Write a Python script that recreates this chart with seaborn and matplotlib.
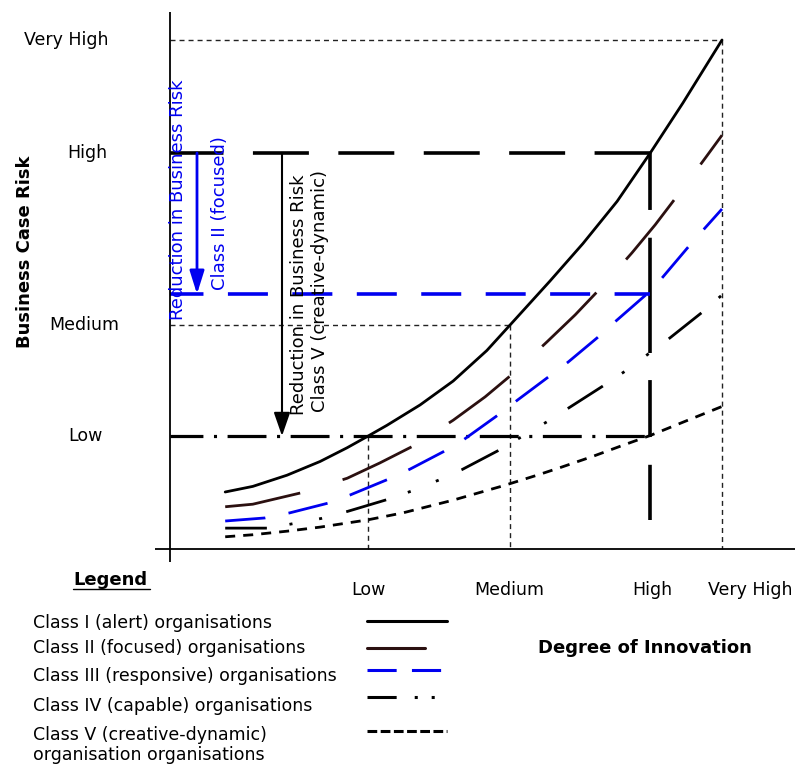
import matplotlib
matplotlib.use("Agg")
import matplotlib.pyplot as plt
from matplotlib.lines import Line2D
import pandas as pd
import seaborn as sns

# ---------------- data ----------------
# Degree of Innovation (x) and Business Case Risk (y), both on a 0-100 scale
level_names = ["Low", "Medium", "High", "Very High"]
innovation_levels = [35.9, 61.6, 87.0, 100.0]
risk_levels = [22.2, 44.0, 77.8, 100.0]
class2_reduced_risk = 50.1

class_names = ["Class I", "Class II", "Class III", "Class IV", "Class V"]
legend_labels = [
    ["Class I (alert) organisations"],
    ["Class II (focused) organisations"],
    ["Class III (responsive) organisations"],
    ["Class IV (capable) organisations"],
    ["Class V (creative-dynamic)", "organisation organisations"],
]

class1_x = [10.0, 15.0, 21.2, 27.2, 32.1, 35.9, 39.3, 45.3, 51.3, 57.4, 61.6, 68.8, 74.8, 81.0, 87.0, 92.9, 100.0]
class1_y = [11.2, 12.3, 14.5, 17.2, 19.9, 22.2, 24.3, 28.3, 33.0, 39.0, 44.0, 52.6, 60.0, 68.3, 77.8, 87.6, 100.0]
class2_x = [10.0, 15.0, 23.6, 32.1, 38.0, 44.0, 51.3, 57.1, 62.5, 68.3, 73.4, 78.4, 83.7, 87.9, 92.4, 97.1, 100.0]
class2_y = [8.3, 8.8, 11.0, 13.9, 16.9, 20.2, 25.3, 29.9, 34.8, 40.7, 46.0, 51.7, 58.2, 63.7, 70.1, 77.0, 81.3]
class3_x = [10.0, 17.2, 21.7, 28.6, 32.6, 39.3, 43.5, 49.5, 53.1, 59.4, 63.0, 68.3, 72.1, 77.4, 81.0, 86.6, 89.1, 93.7, 96.7, 100.0]
class3_y = [5.5, 6.1, 7.1, 9.0, 10.6, 13.6, 15.7, 19.1, 21.4, 26.3, 29.3, 33.6, 36.7, 41.5, 45.0, 50.3, 53.2, 59.1, 62.8, 66.8]
class4_x = [10.0, 17.6, 21.9, 27.4, 32.2, 39.3, 43.8, 48.6, 52.9, 59.4, 68.3, 72.5, 78.4, 82.4, 90.6, 96.4, 100.0]
class4_y = [4.1, 4.1, 4.9, 6.0, 7.4, 9.7, 11.4, 13.5, 15.6, 19.3, 25.0, 27.9, 32.0, 34.9, 41.5, 46.5, 49.9]
class5_x = [10.0, 15.0, 21.2, 27.2, 35.7, 42.2, 51.3, 60.3, 66.5, 70.7, 76.6, 82.1, 87.0, 92.9, 100.0]
class5_y = [2.4, 2.8, 3.5, 4.3, 5.7, 7.1, 9.6, 12.4, 14.5, 16.0, 18.2, 20.4, 22.3, 24.9, 28.0]

series_x = [class1_x, class2_x, class3_x, class4_x, class5_x]
series_y = [class1_y, class2_y, class3_y, class4_y, class5_y]

# ---------------- style ----------------
sns.set_style("white")
plt.rcParams["font.family"] = ["DejaVu Sans"]
plt.rcParams["text.color"] = "black"
plt.rcParams["lines.scale_dashes"] = False

BLUE = "#0000f0"
BROWN = "#2b1010"
colors = {"Class I": "black", "Class II": BROWN, "Class III": BLUE,
          "Class IV": "black", "Class V": "black"}
dashes = {"Class I": "", "Class II": (55, 32), "Class III": (29, 17),
          "Class IV": (30, 16.5, 2.2, 19.5, 2.2, 18), "Class V": (7.2, 5.8)}
legend_dashes = {"Class I": "", "Class II": "", "Class III": (21, 11),
                 "Class IV": (21, 13, 2.2, 10, 2.2, 20), "Class V": (7, 2.5)}

W, H = 795, 767
def fx(px):
    return px / W
def fy(py):
    return 1 - py / H
# pixel -> data helpers for layout
def dx(px):
    return (px - 170) / 5.52
def dy(py):
    return (549 - py) / 5.09

fig = plt.figure(figsize=(W / 100, H / 100), dpi=100)
ax = fig.add_axes([fx(155), fy(562), fx(795) - fx(155), fy(12) - fy(562)])
ax.set_xlim(dx(155), dx(795))
ax.set_ylim(dy(562), dy(12))
ax.set_axis_off()

# axes lines
ax.axhline(0, color="black", lw=1.3, zorder=4)
ax.axvline(0, color="black", lw=1.3, zorder=4)

# ---------------- curves ----------------
frames = []
for name, xs, ys in zip(class_names, series_x, series_y):
    frames.append(pd.DataFrame({"innovation": xs, "risk": ys, "cls": name}))
df = pd.concat(frames, ignore_index=True)

sns.lineplot(data=df, x="innovation", y="risk", hue="cls", style="cls",
             hue_order=class_names, style_order=class_names,
             palette=colors, dashes=dashes, linewidth=2.0,
             estimator=None, errorbar=None, legend=False, ax=ax, zorder=3)
for line in ax.get_lines():
    line.set_solid_joinstyle("round")

# ---------------- reference lines ----------------
lx, mx, hx, vhx = innovation_levels
ly, my, hy, vhy = risk_levels
thin = dict(color="#222222", lw=1.0, dashes=(3.6, 2.9), zorder=2)
ax.plot([0, vhx], [vhy, vhy], **thin)
ax.plot([vhx, vhx], [vhy, 0], **thin)
ax.plot([0, mx], [my, my], **thin)
ax.plot([mx, mx], [my, 0], **thin)
ax.plot([lx, lx], [ly, 0], **thin)

ax.plot([0, hx], [hy, hy], color="black", lw=2.6,
        linestyle=(1.8, (40.3, 21.2)), zorder=2)
ax.plot([hx, hx], [hy, dy(520)], color="black", lw=2.6,
        linestyle=(0, (41, 20, 83, 19.5, 41, 20, 40, 30)), zorder=2)
ax.plot([0, hx], [class2_reduced_risk, class2_reduced_risk], color=BLUE, lw=2.6,
        linestyle=(4.7, (28.8, 17.6)), zorder=2)
ax.plot([0, hx], [ly, ly], color="black", lw=2.3,
        linestyle=(4.3, (28, 7.6, 2.2, 7.6)), zorder=2)

# arrows
ax.annotate("", xy=(dx(282), ly), xytext=(dx(282), hy),
            arrowprops=dict(arrowstyle="-|>,head_length=0.72,head_width=0.25",
                            color="black", lw=1.5, shrinkA=0, shrinkB=0,
                            mutation_scale=20), zorder=5)
ax.annotate("", xy=(dx(197), class2_reduced_risk), xytext=(dx(197), hy),
            arrowprops=dict(arrowstyle="-|>,head_length=0.7,head_width=0.22",
                            color=BLUE, lw=2.0, shrinkA=0, shrinkB=0,
                            mutation_scale=20), zorder=5)

# rotated annotation texts
fig.text(fx(178), fy(320), "Reduction in Business Risk", rotation=90,
         ha="center", va="bottom", color=BLUE, fontsize=13)
fig.text(fx(220), fy(290), "Class II (focused)", rotation=90,
         ha="center", va="bottom", color=BLUE, fontsize=13)
fig.text(fx(299), fy(415), "Reduction in Business Risk", rotation=90,
         ha="center", va="bottom", color="black", fontsize=13)
fig.text(fx(320), fy(412), "Class V (creative-dynamic)", rotation=90,
         ha="center", va="bottom", color="black", fontsize=13)

# level labels
y_label_x = [85, 84, 87, 66]
for name, lvl, px in zip(level_names, risk_levels, y_label_x):
    ax.text(dx(px), lvl, name, ha="center", va="center", fontsize=12.5,
            clip_on=False)
x_label_x = [368, 509, 652, 750]
for name, px in zip(level_names, x_label_x):
    fig.text(fx(px), fy(590), name, ha="center", va="center", fontsize=12.5)

fig.text(fx(25), fy(252), "Business Case Risk", rotation=90, ha="center",
         va="center", fontsize=13, fontweight="bold")
fig.text(fx(645), fy(653), "Degree of Innovation", ha="center",
         va="baseline", fontsize=13, fontweight="bold")

# ---------------- legend ----------------
fig.text(fx(73), fy(585), "Legend", ha="left", va="baseline",
         fontsize=13, fontweight="bold")
fig.add_artist(Line2D([fx(73), fx(150)], [fy(589), fy(589)],
                      transform=fig.transFigure, color="black", lw=1.0))
text_baselines = [628, 653, 681, 711, 740]
handle_y = [621, 648, 670, 697, 731]
handle_end = [447, 425, 442, 437, 447]
for name, lines, tb, hyp, he in zip(class_names, legend_labels,
                                    text_baselines, handle_y, handle_end):
    for i, txt in enumerate(lines):
        fig.text(fx(33), fy(tb + 20 * i), txt, ha="left", va="baseline",
                 fontsize=12.5)
    ln = Line2D([fx(367), fx(he)], [fy(hyp), fy(hyp)],
                transform=fig.transFigure, color=colors[name], lw=2.2)
    ln.set_dashes(legend_dashes[name])
    fig.add_artist(ln)

fig.savefig("out.png", dpi=100)
